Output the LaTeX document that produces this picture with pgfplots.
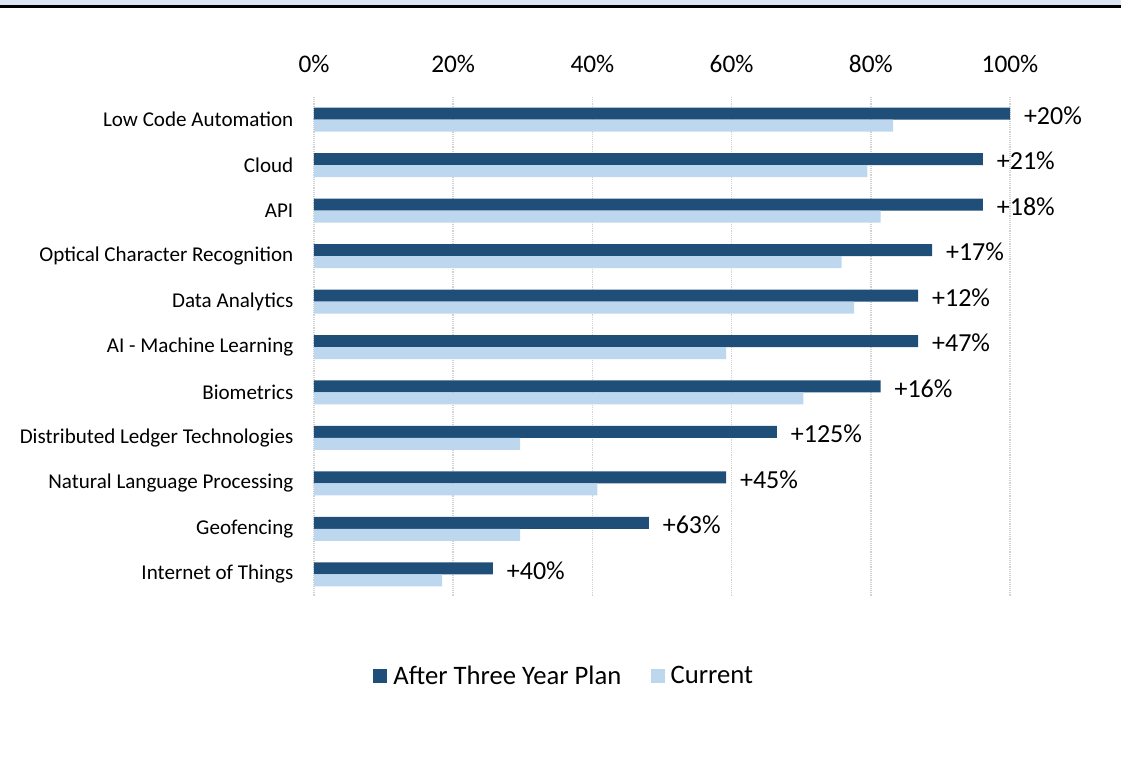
\documentclass[border=0pt]{standalone}
\usepackage{fontspec}
\setmainfont{Carlito}
\usepackage{pgfplots}
\usepackage{pgfplotstable}
\pgfplotsset{compat=1.18}

\definecolor{darkbar}{RGB}{31,78,121}
\definecolor{lightbar}{RGB}{189,215,238}
\definecolor{topband}{RGB}{220,230,242}

% idx: 0 = top category; pct = growth label
\pgfplotstableread{
idx after current pct
0  100.0 83.2 20
1  96.1  79.5 21
2  96.1  81.4 18
3  88.8  75.8 17
4  86.8  77.6 12
5  86.8  59.2 47
6  81.4  70.3 16
7  66.5  29.6 125
8  59.2  40.7 45
9  48.1  29.6 63
10 25.7  18.4 40
}\data

\begin{document}
\begin{tikzpicture}
\useasboundingbox (0,0) rectangle (840.75pt,568.5pt);
\fill[topband] (0,568.5pt) rectangle (840.75pt,564.5pt);
\draw[black, line width=1.8pt] (0,563.6pt) -- (840.75pt,563.6pt);

\begin{axis}[
at={(235.5pt,120.75pt)}, anchor=south west,
scale only axis,
width=522pt, height=375pt,
xbar, bar width=9pt,
xmin=0, xmax=100,
ymin=-0.5, ymax=10.5,
y dir=reverse,
axis line style={draw=none},
major tick length=0pt,
/pgf/number format/assume math mode=true,
xtick={0,20,40,60,80,100},
xticklabels={0\%,20\%,40\%,60\%,80\%,100\%},
xticklabel pos=right,
xticklabel style={font=\fontsize{19}{22}\selectfont, anchor=center, yshift=24.5pt},
ytick={0,...,10},
yticklabels={Low Code Automation, Cloud, API, Optical Character Recognition,
  Data Analytics, AI - Machine Learning, Biometrics,
  Distributed Ledger Technologies, Natural Language Processing,
  Geofencing, Internet of Things},
yticklabel style={font=\fontsize{15.8}{18}\selectfont, anchor=east, xshift=-12pt},
xmajorgrids,
grid style={gray!35, densely dotted, line width=1.2pt},
legend columns=2,
legend style={at={(0.36,-0.158)}, anchor=center, draw=none,
  font=\fontsize{20}{23}\selectfont,
  /tikz/every even column/.append style={column sep=20pt}},
legend image code/.code={\fill[#1] (0pt,-5.25pt) rectangle (10.5pt,5.25pt);
  \path (13pt,0pt);},
]
\addplot[fill=darkbar, draw=none, bar shift=4.5pt,
  point meta=explicit,
  nodes near coords={+\pgfmathprintnumber{\pgfplotspointmeta}\%},
  nodes near coords style={font=\fontsize{19.5}{22}\selectfont, text=black,
    anchor=west, xshift=7pt, yshift=-1.5pt}]
  table[x=after, y=idx, meta=pct] {\data};
\addlegendentry{After Three Year Plan}
\addplot[fill=lightbar, draw=none, bar shift=-4.5pt]
  table[x=current, y=idx] {\data};
\addlegendentry{Current}
\end{axis}
\end{tikzpicture}
\end{document}
